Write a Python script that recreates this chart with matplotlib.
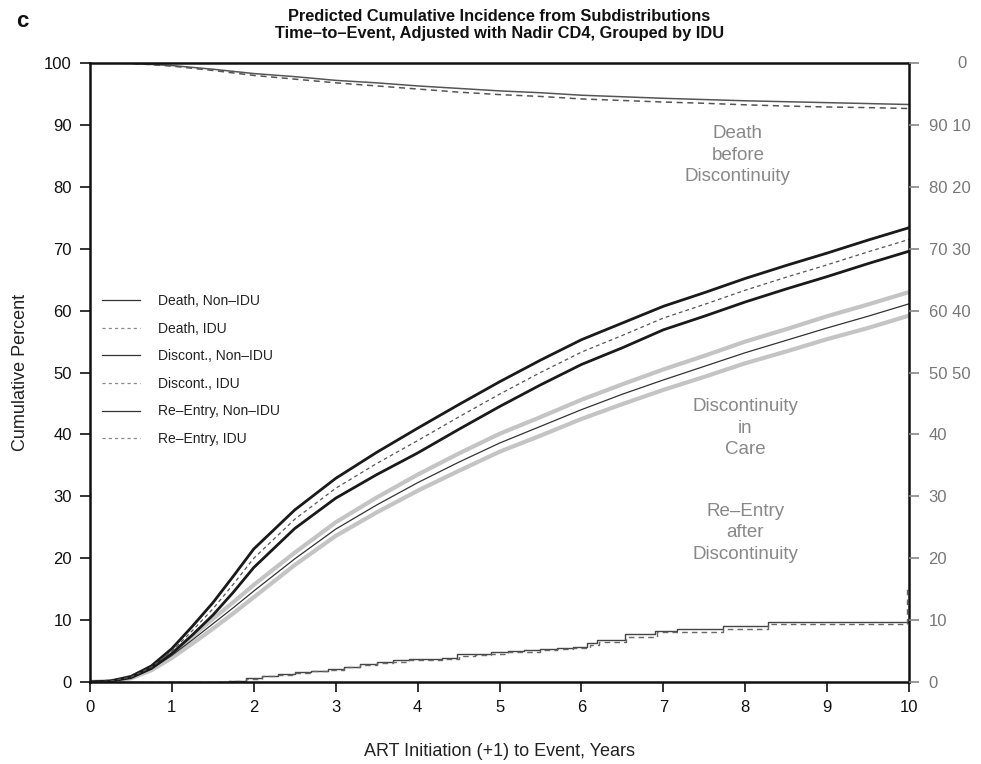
"""Predicted cumulative incidence from subdistributions, grouped by IDU."""

import matplotlib
matplotlib.use("Agg")
import matplotlib.pyplot as plt
from matplotlib.lines import Line2D

plt.rcParams["font.family"] = ["Liberation Sans", "DejaVu Sans"]

# common time grid for the discontinuity curves (years)
grid_x = [0, 0.25, 0.5, 0.75, 1, 1.25, 1.5, 1.75, 2, 2.5, 3, 3.5, 4, 4.5,
          5, 5.5, 6, 6.5, 7, 7.5, 8, 8.5, 9, 9.5, 10]

# discontinuity, IDU (dashed centre, black CI)
disc_idu = [0, 0.15, 0.8, 2.4, 5.0, 8.3, 11.8, 15.8, 20.0, 26.3, 31.3, 35.3, 39.0,
            42.8, 46.5, 50.0, 53.3, 56.0, 58.8, 61.0, 63.3, 65.4, 67.4, 69.5, 71.5]
disc_idu_hi = [0, 0.15, 0.9, 2.6, 5.4, 9.0, 12.8, 17.1, 21.5, 27.8, 32.9, 37.1, 41.0,
               44.8, 48.5, 52.0, 55.3, 58.0, 60.7, 62.9, 65.2, 67.3, 69.3, 71.4, 73.4]
disc_idu_lo = [0, 0.15, 0.7, 2.2, 4.6, 7.6, 10.8, 14.5, 18.5, 24.8, 29.7, 33.5, 37.0,
               40.8, 44.5, 48.0, 51.3, 54.0, 56.9, 59.1, 61.4, 63.5, 65.5, 67.6, 69.6]

# discontinuity, non-IDU (thin solid centre, grey CI)
disc_non = [0, 0.1, 0.7, 2.1, 4.3, 6.8, 9.4, 12.0, 14.7, 19.9, 24.7, 28.6, 32.2,
            35.5, 38.6, 41.3, 44.0, 46.5, 48.8, 51.0, 53.2, 55.2, 57.2, 59.1, 61.1]
disc_non_hi = [0, 0.1, 0.8, 2.3, 4.7, 7.4, 10.2, 12.9, 15.7, 20.9, 25.8, 29.8, 33.5,
               36.9, 40.1, 42.8, 45.6, 48.1, 50.5, 52.7, 55.0, 57.0, 59.1, 61.0, 63.0]
disc_non_lo = [0, 0.1, 0.6, 1.9, 3.9, 6.2, 8.6, 11.1, 13.7, 18.9, 23.6, 27.4, 30.9,
               34.1, 37.2, 39.8, 42.5, 44.9, 47.2, 49.3, 51.5, 53.4, 55.4, 57.2, 59.2]

# death before discontinuity (cumulative %, drawn from the top: 100 - value)
death_x = [0, 0.5, 1, 1.5, 2, 2.5, 3, 3.5, 4, 4.5, 5, 5.5, 6, 6.5, 7, 7.5, 8,
           8.5, 9, 9.5, 10]
death_non = [0, 0.05, 0.4, 1.0, 1.7, 2.2, 2.8, 3.2, 3.7, 4.1, 4.5, 4.8, 5.2, 5.45,
             5.7, 5.9, 6.1, 6.25, 6.4, 6.55, 6.7]
death_idu = [0, 0.05, 0.5, 1.2, 2.0, 2.6, 3.2, 3.7, 4.2, 4.7, 5.1, 5.4, 5.8, 6.05,
             6.3, 6.5, 6.75, 6.95, 7.1, 7.2, 7.35]

# re-entry after discontinuity (step functions)
reent_non_x = [0, 1.5, 1.7, 1.9, 2.1, 2.3, 2.5, 2.7, 2.9, 3.1, 3.3, 3.5, 3.7, 3.9,
               4.1, 4.3, 4.48, 4.7, 4.9, 5.1, 5.3, 5.5, 5.7, 5.9, 6.07, 6.19, 6.53,
               6.9, 7.17, 7.73, 8.28, 10]
reent_non = [0, 0.05, 0.2, 0.6, 1.0, 1.3, 1.6, 1.8, 2.1, 2.5, 2.9, 3.3, 3.5, 3.7,
             3.8, 3.9, 4.5, 4.6, 4.8, 5.0, 5.1, 5.3, 5.5, 5.7, 6.3, 6.8, 7.7, 8.3,
             8.6, 9.05, 9.7, 9.7]
reent_idu_x = [0, 1.5, 1.7, 1.9, 2.1, 2.3, 2.5, 2.7, 2.9, 3.1, 3.3, 3.5, 3.7, 3.9,
               4.1, 4.3, 4.5, 4.7, 4.9, 5.1, 5.3, 5.5, 5.7, 5.9, 6.1, 6.22, 6.55,
               6.92, 7.73, 8.28, 9.98, 9.98]
reent_idu = [0, 0.05, 0.2, 0.5, 0.9, 1.2, 1.5, 1.7, 2.0, 2.4, 2.8, 3.1, 3.3, 3.5,
             3.6, 3.7, 4.2, 4.4, 4.6, 4.8, 4.9, 5.1, 5.3, 5.5, 6.0, 6.5, 7.3, 8.1,
             8.6, 9.3, 9.3, 15.0]

left_ticks = list(range(0, 101, 10))
right_labels = ["0", "10", "20", "30", "40", "50 50", "60 40", "70 30", "80 20",
                "90 10", ""]
legend_labels = ["Death, Non\u2013IDU", "Death, IDU", "Discont., Non\u2013IDU",
                 "Discont., IDU", "Re\u2013Entry, Non\u2013IDU", "Re\u2013Entry, IDU"]

fig = plt.figure(figsize=(9.81, 7.64), dpi=100)
ax = fig.add_axes([0.0917, 0.1073, 0.835, 0.8102])

# discontinuity bands
ax.plot(grid_x, disc_non_hi, color="#c4c4c4", lw=3.0, solid_capstyle="butt")
ax.plot(grid_x, disc_non_lo, color="#c4c4c4", lw=3.0, solid_capstyle="butt")
ax.plot(grid_x, disc_non, color="#333333", lw=0.9)
ax.plot(grid_x, disc_idu_hi, color="#1a1a1a", lw=2.0)
ax.plot(grid_x, disc_idu_lo, color="#1a1a1a", lw=2.0)
ax.plot(grid_x, disc_idu, color="#555555", lw=0.9, dashes=(3, 2.5))

# death curves from the top
ax.plot(death_x, [100 - v for v in death_non], color="#555555", lw=1.1)
ax.plot(death_x, [100 - v for v in death_idu], color="#555555", lw=1.1, dashes=(4, 3))

# re-entry steps
ax.plot(reent_non_x, reent_non, color="#444444", lw=1.0, drawstyle="steps-post")
ax.plot(reent_idu_x, reent_idu, color="#666666", lw=1.0, drawstyle="steps-post",
        dashes=(4, 3))

ax.set_xlim(0, 10)
ax.set_ylim(0, 100)
ax.set_xticks(range(0, 11))
ax.set_yticks(left_ticks)
for s in ax.spines.values():
    s.set_linewidth(1.8)
    s.set_color("#111111")
ax.tick_params(axis="both", direction="out", length=7, width=1.2, labelsize=12,
               colors="#111111", pad=6)
ax.set_xlabel("ART Initiation (+1) to Event, Years", fontsize=13, labelpad=20,
              color="#222222")
ax.set_ylabel("Cumulative Percent", fontsize=13, labelpad=11, color="#222222")

ax2 = ax.twinx()
ax2.set_ylim(0, 100)
ax2.set_yticks(left_ticks)
ax2.set_yticklabels(right_labels)
ax2.tick_params(axis="y", direction="out", length=7, width=1.2, labelsize=12,
                colors="#888888", pad=7)
ax2.tick_params(axis="y", colors="#888888", labelcolor="#777777")
for s in ax2.spines.values():
    s.set_visible(False)
ax2.text(10.65, 100, "0", ha="center", va="center", fontsize=12, color="#777777",
         transform=ax.transData, clip_on=False)

# legend
handles = []
for i in range(6):
    if i % 2 == 0:
        handles.append(Line2D([], [], color="#333333", lw=0.9))
    else:
        handles.append(Line2D([], [], color="#888888", lw=0.9, dashes=(2.5, 2.5)))
ax.legend(handles, legend_labels, loc="upper left", bbox_to_anchor=(0.0, 0.647),
          frameon=False, fontsize=10, handlelength=2.7, handletextpad=1.3,
          labelspacing=0.98, borderaxespad=0.5, labelcolor="#222222")

# region annotations
ann = dict(ha="center", va="center", fontsize=13.5, color="#888888", linespacing=1.35)
ax.text(7.91, 85.1, "Death\nbefore\nDiscontinuity", **ann)
ax.text(8.0, 41.0, "Discontinuity\nin\nCare", **ann)
ax.text(8.0, 24.1, "Re\u2013Entry\nafter\nDiscontinuity", **ann)

fig.text(0.509, 0.979, "Predicted Cumulative Incidence from Subdistributions",
         ha="center", va="center", fontsize=11.8, fontweight="bold", color="#111111")
fig.text(0.509, 0.956, "Time\u2013to\u2013Event, Adjusted with Nadir CD4, Grouped by IDU",
         ha="center", va="center", fontsize=11.8, fontweight="bold", color="#111111")
fig.text(0.023, 0.972, "c", ha="center", va="center", fontsize=16, fontweight="bold",
         color="#111111")

fig.savefig("out.png", dpi=100)
